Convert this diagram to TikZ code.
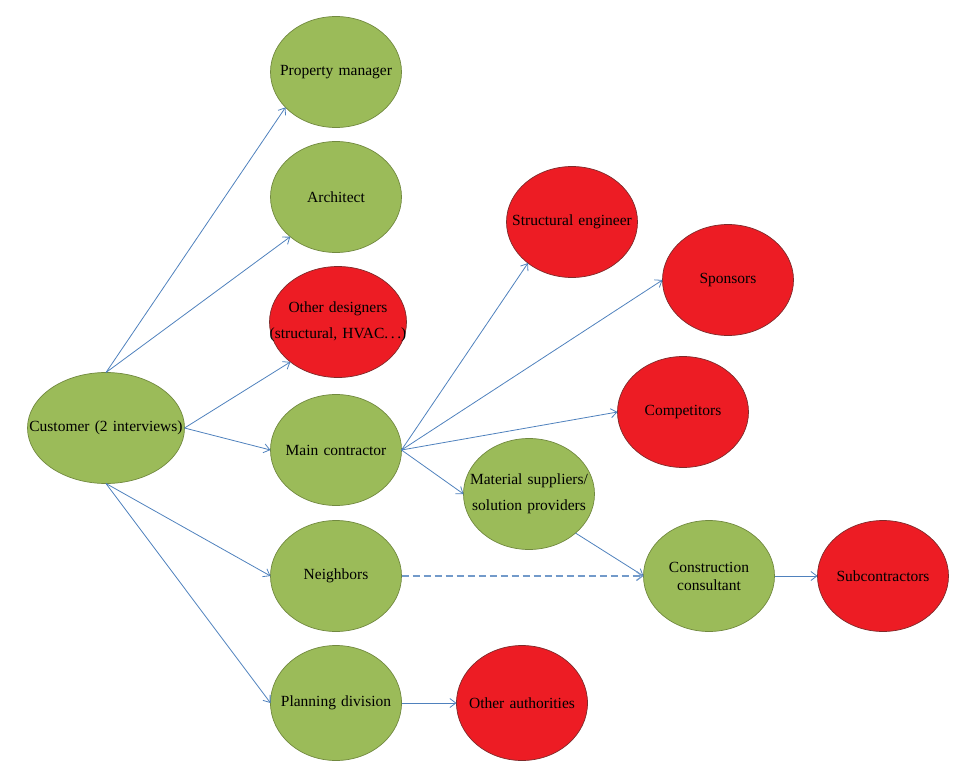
\documentclass[tikz,border=0pt]{standalone}
\usepackage{xcolor}
\usepackage{fontspec}
\setmainfont{Liberation Serif}
\usepackage{tikz}
\usetikzlibrary{arrows.meta, shapes.geometric}
\definecolor{partyGreen}{HTML}{9BBB59}
\definecolor{partyGreenLine}{HTML}{71893F}
\definecolor{partyRed}{HTML}{ED1C24}
\definecolor{partyRedLine}{HTML}{7F2A2A}
\definecolor{linkBlue}{HTML}{4F81BD}

\begin{document}
\begin{tikzpicture}[
  x=1pt, y=-1pt,
  greenparty/.style={ellipse, draw=partyGreenLine, fill=partyGreen, line width=0.7pt,
               minimum width=131pt, minimum height=111pt, outer sep=0pt,
               inner xsep=-40pt, inner ysep=0pt, text width=170pt, align=center,
               font=\fontsize{15.5}{18}\selectfont},
  redparty/.style={greenparty, draw=partyRedLine, fill=partyRed},
  arr/.style={-{Straight Barb[length=6pt,width=9pt]}, line width=0.8pt, color=linkBlue},
  lateral/.style={arr, color=linkBlue!80, dash pattern=on 7pt off 4pt, line width=1.3pt}
]
  \useasboundingbox (0,0) rectangle (972,776);

  \node[greenparty, minimum width=157pt] (cust) at (106,428) {Customer (2 interviews)};
  \node[greenparty] (pm) at (336,72) {Property manager};
  \node[greenparty] (arch) at (336,197) {Architect};
  \node[redparty, minimum width=137pt] (odes) at (338,322) {Other designers\\[8pt](structural, HVAC.\,.\,.)};
  \node[greenparty] (mainc) at (336,450) {Main contractor};
  \node[greenparty] (neigh) at (336,576) {Neighbors};
  \node[greenparty, minimum height=115pt] (plan) at (336,703) {Planning division};

  \node[redparty] (steng) at (572,222) {Structural engineer};
  \node[redparty] (spons) at (728,280) {Sponsors};
  \node[redparty] (compet) at (683,412) {Competitors};
  \node[greenparty] (matsup) at (529,494) {Material suppliers/\\[8pt]solution providers};
  \node[greenparty] (consult) at (709,576) {Construction\\consultant};
  \node[redparty] (subcon) at (883,576) {Subcontractors};
  \node[redparty, minimum height=115pt] (othauth) at (522,703) {Other authorities};

  \draw[arr] (cust.north)--(pm.215);
  \draw[arr] (cust.north)--(arch.221);
  \draw[arr] (cust.east)--(odes.220);
  \draw[arr] (cust.east)--(mainc.west);
  \draw[arr] (cust.south)--(neigh.west);
  \draw[arr] (cust.south)--(plan.west);

  \draw[arr] (mainc.east)--(steng.223);
  \draw[arr] (mainc.east)--(spons.west);
  \draw[arr] (mainc.east)--(compet.west);
  \draw[arr] (mainc.east)--(matsup.west);

  \draw[arr] (matsup.320)--(consult.west);
  \draw[lateral] (neigh.east)--(consult.west);
  \draw[arr] (consult.east)--(subcon.west);
  \draw[arr] (plan.east)--(othauth.west);
\end{tikzpicture}
\end{document}
